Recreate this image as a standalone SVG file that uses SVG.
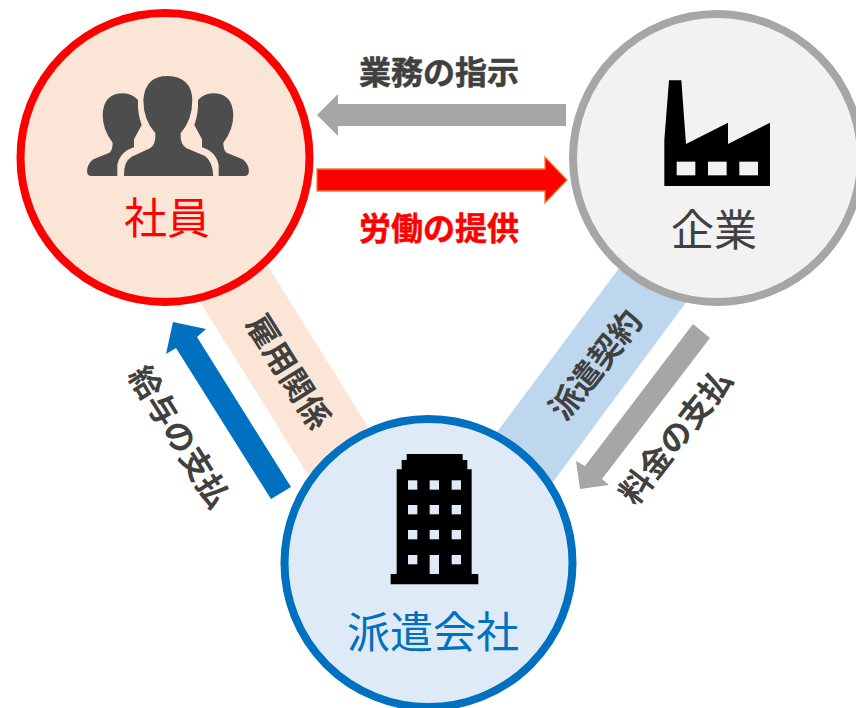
<svg xmlns="http://www.w3.org/2000/svg" width="856" height="708" viewBox="0 0 856 708">
<style>
text{font-family:"Noto Sans CJK JP","Noto Sans",sans-serif;text-anchor:middle}
.b{font-weight:700;font-size:32px;fill:#404040}
.h{stroke:#404040;stroke-width:.5}
.n{font-size:43px}
.c{stroke-width:8}
</style>
<rect width="856" height="708" fill="#fff"/>
<g id="connectors">
<polygon id="band-koyou" points="175,262 240,221 368,427 308,475" fill="#FBE5D6"/>
<polygon id="band-haken" points="640,240 710,270 553,482 497,432" fill="#BDD7EE"/>
<polygon id="arrow-shiji" points="566,104 338,104 338,94 317,115 338,136 338,126 566,126" fill="#A6A6A6"/>
<polygon id="arrow-roudou" points="317,169 545,169 545,157 567,180 545,203 545,191 317,191" fill="#FF0000" stroke="#ED7D31" stroke-width="1.3"/>
<polygon id="arrow-kyuuyo" points="291,487 271,499 176,348 166,354 173,322 206,329 197,337" fill="#0070C0"/>
<polygon id="arrow-ryoukin" points="693,324 710,338 602,479 609,485 580,489 576,461 585,466" fill="#A6A6A6"/>
</g>
<g id="node-shain">
<circle class="c" cx="165" cy="157.500" r="144.500" fill="#FBE5D6" stroke="#FF0000"/>
<g transform="translate(60 50) scale(.3333)" fill="#4D4D4D">
<path id="side" d="M172,378H95Q81,378 81,362Q83,340 100,328L148,308Q158,302 158,278Q128,240 128,195Q130,130 190,130Q215,130 234,150Q232,190 245,225L222,268V292Q180,305 172,345Z"/>
<use href="#side" transform="translate(648 0) scale(-1 1)"/>
<path d="M192,378Q190,335 215,320L270,295Q288,285 286,250Q250,210 250,150Q255,78 323,78Q395,80 397,150Q397,210 362,250Q360,285 380,295L435,318Q458,335 460,378Z"/>
</g>
<text class="n" x="167" y="234" fill="#FF0000">社員</text>
</g>
<g id="node-kigyou">
<circle class="c" cx="717" cy="158" r="144" fill="#F2F2F2" stroke="#A6A6A6"/>
<g transform="translate(630 60) scale(.3333)">
<path d="M117,61H154L168,252L294,188V252L420,188V378H103V240Z" fill="#000"/>
<g fill="#F2F2F2"><rect x="140" y="305" width="56" height="41"/><rect x="234" y="305" width="56" height="41"/><rect x="328" y="305" width="56" height="41"/></g>
</g>
<text class="n" x="714" y="246" fill="#404040">企業</text>
</g>
<g id="node-haken">
<circle class="c" cx="428.500" cy="563" r="144" fill="#DEEAF6" stroke="#0070C0"/>
<g transform="translate(370 440) scale(.3333)">
<path d="M110,42H278V60H292V88H305V402H325V433H62V402H80V88H95V60H110Z" fill="#000"/>
<g fill="#DEEAF6">
<rect x="114" y="121" width="28" height="28"/><rect x="179" y="121" width="28" height="28"/><rect x="245" y="121" width="28" height="28"/>
<rect x="114" y="195" width="28" height="28"/><rect x="179" y="195" width="28" height="28"/><rect x="245" y="195" width="28" height="28"/>
<rect x="114" y="270" width="28" height="28"/><rect x="179" y="270" width="28" height="28"/><rect x="245" y="270" width="28" height="28"/>
<rect x="114" y="345" width="28" height="28"/><rect x="179" y="345" width="28" height="57"/><rect x="245" y="345" width="28" height="28"/>
</g>
</g>
<text class="n" x="433" y="648" fill="#0070C0">派遣会社</text>
</g>
<g id="labels">
<text class="b h" x="439" y="84">業務の指示</text>
<text class="b h" x="439" y="240" style="fill:#FF0000;stroke:#FF0000">労働の提供</text>
<text class="b" transform="translate(288 372) rotate(58)" y="11">雇用関係</text>
<text class="b" transform="translate(179 437) rotate(58)" y="11">給与の支払</text>
<text class="b" transform="translate(596 365) rotate(-52)" y="11">派遣契約</text>
<text class="b" transform="translate(676 437) rotate(-52)" y="11">料金の支払</text>
</g>
</svg>
